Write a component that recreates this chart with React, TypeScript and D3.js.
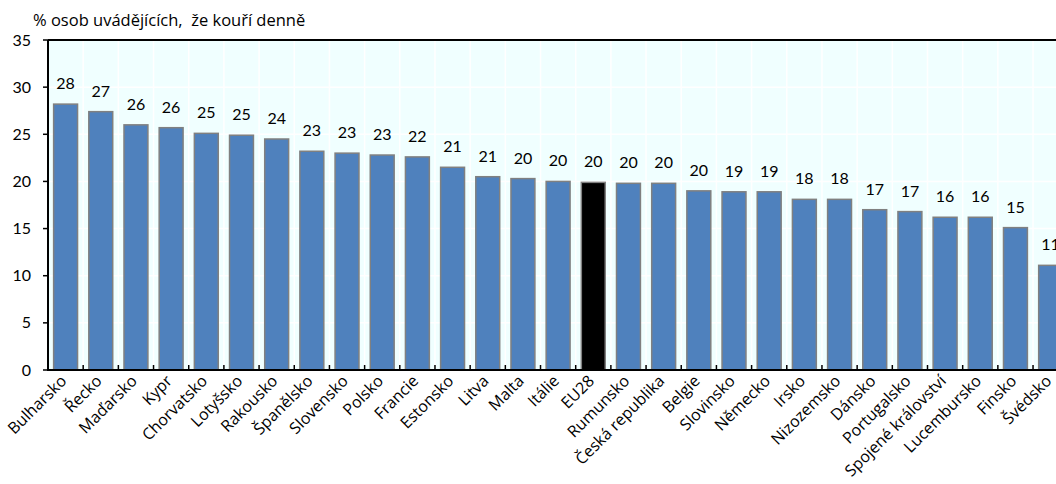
import React from "react";
import * as d3 from "d3";

const categories = ["Bulharsko","Řecko","Maďarsko","Kypr","Chorvatsko","Lotyšsko","Rakousko","Španělsko","Slovensko","Polsko","Francie","Estonsko","Litva","Malta","Itálie","EU28","Rumunsko","Česká republika","Belgie","Slovinsko","Německo","Irsko","Nizozemsko","Dánsko","Portugalsko","Spojené království","Lucembursko","Finsko","Švédsko"];
const values = [28.2,27.4,26.0,25.7,25.1,24.9,24.5,23.2,23.0,22.8,22.6,21.5,20.5,20.3,20.0,19.9,19.8,19.8,19.0,18.9,18.9,18.1,18.1,17.0,16.8,16.2,16.2,15.1,11.1];
const valueLabels = ["28","27","26","26","25","25","24","23","23","23","22","21","21","20","20","20","20","20","20","19","19","18","18","17","17","16","16","15","11"];
const yTicks = [0,5,10,15,20,25,30,35];
const highlight = "EU28";
const title = "% osob uvádějících,  že kouří denně";

const W = 1056, H = 484;
const left = 48, top = 40, bottom = 370;
const step = 35.18;
const numFont = "Lato, 'Open Sans', sans-serif";
const textFont = "'Open Sans', Lato, sans-serif";

export default function App() {
  const x = d3.scaleBand<string>().domain(categories).range([left, left + step * categories.length]).paddingInner(0.32).paddingOuter(0.16);
  const y = d3.scaleLinear().domain([0, 35]).range([bottom, top]);
  const bw = x.bandwidth();
  const boundaries = categories.map((c) => (x(c) as number) - x.step() * 0.16);
  return (
    <svg width={W} height={H} style={{ position: "absolute", left: 0, top: 0, background: "#fff" }} fontFamily={numFont}>
      <rect x={left} y={top} width={W - left + 20} height={bottom - top} fill="#F0FFFF" />
      {yTicks.map((t) => (
        <line key={"g" + t} x1={left} x2={W} y1={y(t)} y2={y(t)} stroke="#fff" strokeWidth={1.5} />
      ))}
      {boundaries.map((b, i) => (
        <line key={"v" + i} x1={b} x2={b} y1={top} y2={bottom} stroke="#fff" strokeWidth={1.5} />
      ))}
      {categories.map((c, i) => (
        <rect key={c} x={x(c)} y={y(values[i])} width={bw} height={bottom - y(values[i])}
          fill={c === highlight ? "#000" : "#4F81BD"} stroke="#808080" strokeWidth={1.5} />
      ))}
      {categories.map((c, i) => (
        <text key={"l" + c} x={(x(c) as number) + bw / 2} y={y(values[i]) - 15} textAnchor="middle" fontSize={16} fill="#000">
          {valueLabels[i]}
        </text>
      ))}
      {boundaries.map((b, i) => i > 0 && (
        <line key={"t" + i} x1={b} x2={b} y1={bottom} y2={bottom - 5} stroke="#000" strokeWidth={1.5} />
      ))}
      <line x1={left} x2={W} y1={top} y2={top} stroke="#000" strokeWidth={2} />
      <line x1={left} x2={W} y1={bottom} y2={bottom} stroke="#000" strokeWidth={2} />
      <line x1={left} x2={left} y1={top} y2={bottom + 1} stroke="#000" strokeWidth={2} />
      {yTicks.map((t) => (
        <g key={"y" + t}>
          <line x1={left - 5} x2={left} y1={y(t)} y2={y(t)} stroke="#000" strokeWidth={1.5} />
          <text x={31} y={y(t) + 5.5} textAnchor="end" fontSize={16} fill="#000">{t}</text>
        </g>
      ))}
      {categories.map((c) => {
        const cx = (x(c) as number) + bw / 2 + 2;
        return (
          <text key={"x" + c} transform={`translate(${cx},${bottom + 12}) rotate(-45)`} textAnchor="end" fontSize={16} fontFamily={textFont} fill="#000">
            {c}
          </text>
        );
      })}
      <text x={33} y={26} fontSize={16.5} fontFamily={textFont} fill="#000" style={{ whiteSpace: "pre" }}>{title}</text>
    </svg>
  );
}
